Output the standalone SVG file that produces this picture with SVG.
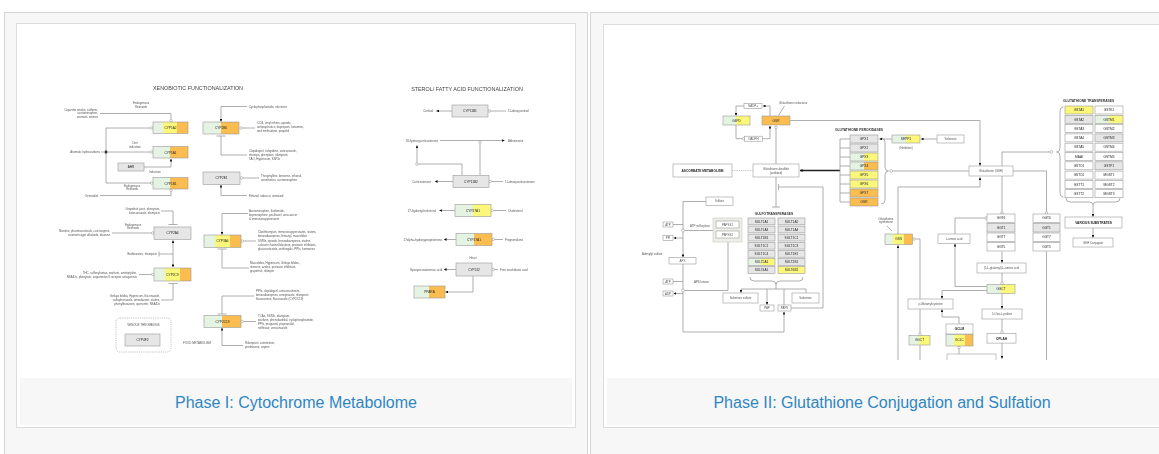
<svg xmlns="http://www.w3.org/2000/svg" width="1159" height="454" viewBox="0 0 1159 454">
<defs>
  <!-- expression colour fills for gene boxes -->
  <linearGradient id="go" x1="0" x2="1" y1="0" y2="0">
    <stop offset="0.5" stop-color="#e4f3e2"/><stop offset="0.5" stop-color="#fbbd50"/>
  </linearGradient>
  <linearGradient id="gy" x1="0" x2="1" y1="0" y2="0">
    <stop offset="0.5" stop-color="#e4f3e2"/><stop offset="0.5" stop-color="#fbf77a"/>
  </linearGradient>
  <linearGradient id="gyo" x1="0" x2="1" y1="0" y2="0">
    <stop offset="0.3" stop-color="#e4f3e2"/><stop offset="0.3" stop-color="#fbf77a"/>
    <stop offset="0.7" stop-color="#fbf77a"/><stop offset="0.7" stop-color="#fbbd50"/>
  </linearGradient>
  <marker id="ah" viewBox="0 0 6 6" refX="5.5" refY="3" markerWidth="2.8" markerHeight="2.8" orient="auto" markerUnits="userSpaceOnUse">
    <path d="M0,0L6,3L0,6z" fill="#111"/>
  </marker>
  <clipPath id="clipR"><rect x="604" y="25" width="560" height="335"/></clipPath>
  <!-- thumbnails are downscaled pictures, so soften them slightly -->
  <filter id="soft" x="-2%" y="-2%" width="104%" height="104%"><feGaussianBlur stdDeviation="0.3"/></filter>
</defs>
<style>
  .card{fill:#f7f7f7;stroke:#d4d4d4;stroke-width:1}
  .frame{fill:#fff;stroke:#dcdcdc;stroke-width:1}
  .cap{fill:#f7f7f7}
  .capt{font-family:"Liberation Sans",Arial,sans-serif;font-size:16px;fill:#2f86c2;text-anchor:middle}
  .ttl{font-family:"Liberation Sans",Arial,sans-serif;font-size:5.4px;fill:#444;text-anchor:middle}
  .st{font-family:"Liberation Sans",Arial,sans-serif;font-size:3.3px;fill:#333;font-weight:bold}
  .g{stroke:#9a9a9a;stroke-width:0.6}
  .gl{font-family:"Liberation Sans",Arial,sans-serif;font-size:3.2px;fill:#222;text-anchor:middle}
  .gb{font-family:"Liberation Sans",Arial,sans-serif;font-size:3.2px;fill:#222;text-anchor:middle;font-weight:bold}
  .d{font-family:"Liberation Sans",Arial,sans-serif;font-size:2.9px;fill:#555}
  .r{text-anchor:end}
  .m{text-anchor:middle}
  .ln{fill:none;stroke:#9a9a9a;stroke-width:0.8}
  .dk{fill:none;stroke:#222;stroke-width:1.3}
  .dash{fill:none;stroke:#9a9a9a;stroke-width:0.6;stroke-dasharray:1.2 1}
  .ar{marker-end:url(#ah)}
  .oc{fill:#fff;stroke:#8a8a8a;stroke-width:0.5}
  .gray{fill:#e6e6e6}
  .wht{fill:#fff}
  .yel{fill:#fbf77a}
  .org{fill:#fbbd50}
</style>

<!-- cards -->
<rect class="card" x="4.5" y="12.5" width="583" height="460"/>
<rect class="frame" x="16.5" y="23.5" width="559" height="404"/>
<rect class="cap" x="20" y="378" width="552" height="47"/>
<text class="capt" x="296" y="408">Phase I: Cytochrome Metabolome</text>

<rect class="card" x="590.5" y="12.5" width="600" height="460"/>
<rect class="frame" x="603.5" y="24.5" width="600" height="403"/>
<rect class="cap" x="607" y="378" width="560" height="47"/>
<text class="capt" x="882" y="408">Phase II: Glutathione Conjugation and Sulfation</text>

<!-- ===================== PHASE I ===================== -->
<g id="phase1" filter="url(#soft)">
<text class="ttl" x="198" y="90">XENOBIOTIC FUNCTIONALIZATION</text>
<text class="ttl" x="467" y="91">STEROL/ FATTY ACID FUNCTIONALIZATION</text>

<g id="p1-connectors">
  <!-- CYP1 family -->
  <path class="ln" d="M100,113.5 H171 V119.5"/>
  <path class="ln" d="M151,128 H106 V183 H151"/>
  <path class="ln" d="M101,152 H151"/>
  <rect x="104.8" y="150.6" width="2.4" height="2.8" fill="#333"/>
  <path class="ln ar" d="M144,167 H171 V159"/>
  <path class="ln" d="M100,195.5 H171 V191.5"/>
  <!-- CYP2B6 -->
  <path class="ln ar" d="M247,106.5 H221 V121.5"/>
  <path class="ln" d="M242.5,128 H255"/>
  <path class="ln" d="M221,136 V155 H247"/>
  <path class="ln" d="M216.5,136 H225.5"/>
  <!-- CYP2E1 -->
  <path class="ln" d="M243,178 H259"/>
  <path class="ln ar" d="M247,195.5 H221 V185"/>
  <!-- CYP2A6 / CYP2C9 -->
  <path class="ln" d="M161,211 H173 V224.5"/>
  <path class="ln" d="M168.5,224.5 H177.5"/>
  <path class="ln" d="M112,233 H151.5"/>
  <path class="ln ar" d="M173,254 V240.5"/>
  <path class="ln ar" d="M173,254 V267"/>
  <path class="ln" d="M159,254 H173"/>
  <path class="ln" d="M159,251.5 V256.5"/>
  <path class="ln" d="M139,274.5 H151.5"/>
  <path class="ln" d="M173,283.5 V300 H161"/>
  <path class="ln" d="M168.5,283.5 H177.5"/>
  <!-- CYP3A4 -->
  <path class="ln ar" d="M248,213.5 H222 V234.5"/>
  <path class="ln" d="M243.5,241 H256"/>
  <path class="ln" d="M222,249 V268 H249"/>
  <path class="ln" d="M217.5,249 H226.5"/>
  <!-- CYP2C19 -->
  <path class="ln" d="M254,296 H222 V314"/>
  <path class="ln" d="M217.5,314 H226.5"/>
  <path class="ln" d="M243.5,321.5 H256"/>
  <path class="ln ar" d="M243,345.5 H222 V328"/>
  <!-- sterol section -->
  <path class="ln ar" d="M452,111 H436.5"/>
  <path class="ln" d="M490.5,111 H506"/>
  <path class="ln ar" d="M440,140.5 H504.5"/>
  <path class="ln" d="M480,143.5 V175"/>
  <path class="ln ar" d="M417,162.7 V145.5"/>
  <path class="ln" d="M418.3,164 H462 V175"/>
  <path class="ln ar" d="M453,181.5 H435"/>
  <path class="ln" d="M491.5,181.5 H503"/>
  <path class="ln ar" d="M455,210.5 H439.5"/>
  <path class="ln" d="M493.5,210.5 H506"/>
  <path class="ln ar" d="M456,239.5 H444"/>
  <path class="ln" d="M494,239.5 H503"/>
  <path class="ln ar" d="M456,269.5 H444"/>
  <path class="ln" d="M494,269.5 H498"/>
  <path class="ln ar" d="M473,276 V292 H445.5"/>
  <!-- open circle ends -->
  <circle class="oc" cx="171" cy="120.8" r="1.3"/>
  <circle class="oc" cx="151.8" cy="128" r="1.3"/>
  <circle class="oc" cx="151.8" cy="152" r="1.3"/>
  <circle class="oc" cx="151.8" cy="183" r="1.3"/>
  <circle class="oc" cx="171" cy="190.3" r="1.3"/>
  <circle class="oc" cx="241.2" cy="128" r="1.3"/>
  <circle class="oc" cx="241.5" cy="178" r="1.3"/>
  <circle class="oc" cx="152.8" cy="233" r="1.3"/>
  <circle class="oc" cx="152.8" cy="274.5" r="1.3"/>
  <circle class="oc" cx="242.2" cy="241" r="1.3"/>
  <circle class="oc" cx="242.2" cy="321.5" r="1.3"/>
  <circle class="oc" cx="489.2" cy="111" r="1.3"/>
  <circle class="oc" cx="480" cy="142.2" r="1.3"/>
  <circle class="oc" cx="417" cy="164" r="1.3"/>
  <circle class="oc" cx="490.2" cy="181.5" r="1.3"/>
  <circle class="oc" cx="492.2" cy="210.5" r="1.3"/>
  <circle class="oc" cx="493.2" cy="239.5" r="1.3"/>
  <circle class="oc" cx="493.2" cy="269.5" r="1.3"/>
</g>

<!-- descriptive labels -->
<g id="p1-labels">
  <text class="d r" x="98" y="110.5">Cigarette smoke, caffeine,</text>
  <text class="d r" x="98" y="114.2">acetaminophen,</text>
  <text class="d r" x="98" y="118.3">aromatic amines</text>
  <text class="d m" x="141" y="104">Endogenous</text>
  <text class="d m" x="141" y="107.5">Retinoids</text>
  <text class="d r" x="100" y="153">Aromatic hydrocarbons</text>
  <text class="d m" x="135" y="144">Diet</text>
  <text class="d m" x="135" y="147.5">induction</text>
  <text class="d m" x="155" y="172.5">Induction</text>
  <text class="d m" x="132" y="186.5">Endogenous</text>
  <text class="d m" x="132" y="190">Retinoids</text>
  <text class="d r" x="98" y="196.5">Oestradiol</text>
  <text class="d" x="249" y="107.5">Cyclophosphamide, efavirenz</text>
  <text class="d" x="257" y="123.5">CCl4, vinyl ethers, opioids,</text>
  <text class="d" x="257" y="127.5">antipsychotics, bupropion, ketamine,</text>
  <text class="d" x="257" y="131.5">and methadone, propofol</text>
  <text class="d" x="249" y="152">Clopidogrel, ticlopidine, voriconazole,</text>
  <text class="d" x="249" y="156">thiotepa, phenytoin, rifampicin,</text>
  <text class="d" x="249" y="160">TAO, Hypericum, SSRIs</text>
  <text class="d" x="261" y="177">Theophylline, benzene, ethanol,</text>
  <text class="d" x="261" y="180.7">anesthetics, acetaminophen</text>
  <text class="d" x="249" y="196.5">Ethanol, tobacco, isoniazid</text>
  <text class="d r" x="160" y="209.5">Grapefruit juice, phenytoin,</text>
  <text class="d r" x="160" y="214">ketoconazole, rifampicin</text>
  <text class="d m" x="133" y="225.5">Endogenous</text>
  <text class="d m" x="133" y="229">Retinoids</text>
  <text class="d r" x="110" y="231.5">Nicotine, pharmaceuticals, carcinogens,</text>
  <text class="d r" x="110" y="235.5">coumarin-type alkaloids, dioxane</text>
  <text class="d r" x="157" y="255">Barbiturates, rifampicin</text>
  <text class="d r" x="137" y="273.5">THC, sulfonylureas, warfarin, amitriptyline,</text>
  <text class="d r" x="137" y="277.5">NSAIDs, phenytoin, angiotensin II receptor antagonists</text>
  <text class="d r" x="160" y="296.5">Ginkgo biloba, Hypericum, fluconazole,</text>
  <text class="d r" x="160" y="300.5">sulfaphenazole, amiodarone, statins,</text>
  <text class="d r" x="160" y="304.5">phenylbutazone, quercetin, NSAIDs</text>
  <text class="d" x="249" y="212">Acetaminophen, ifosfamide,</text>
  <text class="d" x="249" y="216">buprenorphine, paclitaxel, anti-cancer</text>
  <text class="d" x="249" y="220">&amp; immunosuppressants</text>
  <text class="d" x="258" y="233">Clarithromycin, immunosuppressants, statins,</text>
  <text class="d" x="258" y="237">benzodiazepines, fentanyl, macrolides</text>
  <text class="d" x="258" y="241.5">SSRIs, opioids, benzodiazepines, statins,</text>
  <text class="d" x="258" y="245.5">calcium channel blockers, protease inhibitors,</text>
  <text class="d" x="258" y="249.5">glucocorticoids, antifungals, PPIs, hormones</text>
  <text class="d" x="250" y="263.5">Macrolides, Hypericum, Ginkgo biloba,</text>
  <text class="d" x="250" y="267.5">ritonavir, azoles, protease inhibitors,</text>
  <text class="d" x="250" y="271.5">grapefruit, rifampin</text>
  <text class="d" x="256" y="291.5">PPIs, clopidogrel, anticonvulsants,</text>
  <text class="d" x="256" y="295.5">benzodiazepines, omeprazole, rifampicin</text>
  <text class="d" x="256" y="299.5">fluvoxamine, fluconazole (CYP2C19)</text>
  <text class="d" x="258" y="317">TCAs, SSRIs, diazepam,</text>
  <text class="d" x="258" y="321">warfarin, phenobarbital, cyclophosphamide,</text>
  <text class="d" x="258" y="325">PPIs, proguanil, propranolol,</text>
  <text class="d" x="258" y="329">nelfinavir, voriconazole</text>
  <text class="d" x="245" y="344">Rifampicin, artemisinin,</text>
  <text class="d" x="245" y="348">prednisone, aspirin</text>
  <text class="d m" x="197" y="343.5">FOOD METABOLISM</text>
  <text class="d r" x="433" y="112">Cortisol</text>
  <text class="d" x="508" y="112">11-deoxycortisol</text>
  <text class="d r" x="438" y="141.5">18-hydroxycorticosterone</text>
  <text class="d" x="508" y="141.5">Aldosterone</text>
  <text class="d r" x="431" y="182.5">Corticosterone</text>
  <text class="d" x="505" y="182.5">11-deoxycorticosterone</text>
  <text class="d r" x="436" y="211.5">27-hydroxycholesterol</text>
  <text class="d" x="508" y="211.5">Cholesterol</text>
  <text class="d r" x="442" y="240.5">17alpha-hydroxyprogesterone</text>
  <text class="d" x="505" y="240.5">Pregnenolone</text>
  <text class="d m" x="473" y="258.5">Heart</text>
  <text class="d r" x="442" y="270.5">Epoxyeicosatrienoic acid</text>
  <text class="d" x="500" y="270.5">Free arachidonic acid</text>
</g>

<!-- gene nodes -->
<g id="cyp1a2"><rect class="g" x="153" y="122" width="35" height="11.5" fill="url(#gyo)"/><text class="gl" x="170.5" y="129">CYP1A2</text></g>
<g id="cyp1a1"><rect class="g" x="153" y="146.5" width="35" height="11.5" fill="url(#go)"/><text class="gl" x="170.5" y="153.5">CYP1A1</text></g>
<g id="ahr"><rect class="g gray" x="118" y="163" width="26" height="8"/><text class="gl" x="131" y="168.2">AHR</text></g>
<g id="cyp1b1"><rect class="g" x="153" y="177.5" width="35" height="11.5" fill="url(#go)"/><text class="gl" x="170.5" y="184.5">CYP1B1</text></g>
<g id="cyp2b6"><rect class="g" x="203" y="122" width="36" height="12" fill="url(#go)"/><text class="gl" x="221" y="129.2">CYP2B6</text></g>
<g id="cyp2e1"><rect class="g gray" x="203" y="172" width="37" height="12.5"/><text class="gl" x="221.5" y="179.4">CYP2E1</text></g>
<g id="cyp2a6"><rect class="g gray" x="154" y="227" width="37" height="12.5"/><text class="gl" x="172.5" y="234.4">CYP2A6</text></g>
<g id="cyp2c9"><rect class="g" x="154" y="268" width="37" height="13" fill="url(#gyo)"/><text class="gl" x="172.5" y="275.6">CYP2C9</text></g>
<g id="cyp3a4"><rect class="g" x="204" y="235" width="37" height="12.5" fill="url(#gyo)"/><text class="gl" x="222.5" y="242.4">CYP3A4</text></g>
<g id="cyp2c19"><rect class="g" x="204" y="315.5" width="37" height="12" fill="url(#go)"/><text class="gl" x="222.5" y="322.7">CYP2C19</text></g>
<g id="venous-thrombosis">
  <rect class="dash" x="116" y="318" width="55" height="34" rx="4"/>
  <text class="d m" x="143.5" y="326">VENOUS THROMBOSIS</text>
  <rect class="g gray" x="125" y="334" width="35" height="12"/><text class="gl" x="142.5" y="341.2">CYP4F2</text>
</g>
<g id="cyp11b1"><rect class="g gray" x="452" y="105" width="36" height="12"/><text class="gl" x="470" y="112.2">CYP11B1</text></g>
<g id="cyp11b2"><rect class="g gray" x="453" y="175.5" width="36" height="12"/><text class="gl" x="471" y="182.7">CYP11B2</text></g>
<g id="cyp27a1"><rect class="g" x="455" y="204.5" width="36" height="12" fill="url(#gy)"/><text class="gl" x="473" y="211.7">CYP27A1</text></g>
<g id="cyp17a1"><rect class="g" x="456" y="233.5" width="36" height="12" fill="url(#go)"/><text class="gl" x="474" y="240.7">CYP17A1</text></g>
<g id="cyp2j2"><rect class="g gray" x="456" y="263" width="36" height="13"/><text class="gl" x="474" y="270.6">CYP2J2</text></g>
<g id="ppara"><rect class="g" x="414" y="286" width="31" height="12" fill="url(#go)"/><text class="gl" x="429.5" y="293.2">PPARA</text></g>
</g>

<!-- ===================== PHASE II ===================== -->
<g clip-path="url(#clipR)">
<g id="phase2" filter="url(#soft)">
<g id="p2-connectors">
  <!-- glutathione redox cycle -->
  <path class="ln ar" d="M770,116 V106 H763"/>
  <path class="ln ar" d="M744,106 H736 V115.5"/>
  <path class="ln" d="M736,125 V138.7 H742.5"/>
  <path class="ln ar" d="M762,138.7 H770 V126"/>
  <path class="ln" d="M784.5,106 L778.5,115.5"/>
  <path class="ln ar" d="M790,120.5 H980 V165.5"/>
  <path class="ln" d="M776,128.5 V164"/>
  <path class="dash" d="M732,170.5 H752.5"/>
  <path class="dk ar" d="M840,170.5 H800"/>
  <path class="ln" d="M776,177 V207"/>
  <path class="ln" d="M772,207 H780"/>
  <path class="ln" d="M778.5,187 H823 V308 H791"/>
  <path class="ln" d="M778.5,184 V190"/>
  <!-- peroxidase bracket -->
  <path class="ln" d="M840,139 V202 M840,139 H850 M840,148 H850 M840,157 H850 M840,166 H850 M840,175 H850 M840,184 H850 M840,193 H850 M840,202 H850"/>
  <path class="ln" d="M881,138 q4,0 4,4 v25 q0,4 3.5,4 q-3.5,0 -3.5,4 v25 q0,4 -4,4"/>
  <path class="ln" d="M892.6,171 H969"/>
  <path class="ln ar" d="M892,139 H879.5"/>
  <path class="ln ar" d="M937,139 H921"/>
  <!-- GSH hub -->
  <path class="ln ar" d="M898,234 V187 H980 V177.5"/>
  <path class="ln ar" d="M898,362 V245.5"/>
  <path class="ln" d="M1013,171 H1046.5 V211.7"/>
  <path class="ln" d="M1002,166 V152 H1050"/>
  <path class="ln" d="M1002,176 V211.7"/>
  <path class="ln" d="M1063.5,107 q-3.5,0 -3.5,4 v37 q0,4 -3.5,4 q3.5,0 3.5,4 v37 q0,4 3.5,4"/>
  <path class="ln" d="M1066,198 q0,4 4,4 h19 q4,0 4,3 q0,-3 4,-3 h19 q4,0 4,-4"/>
  <path class="ln ar" d="M1093,205 V216.5"/>
  <path class="ln ar" d="M1093,228 V237.5"/>
  <!-- synthesis and gamma-glutamyl cycle -->
  <path class="ln" d="M887,226 L892,231"/>
  <path class="ln" d="M915.3,239 H920 V333"/>
  <path class="ln" d="M920,345 V362"/>
  <path class="ln" d="M984.7,218 H955 V234"/>
  <path class="ln ar" d="M987,286.5 H955 V244"/>
  <path class="ln ar" d="M1002,251.5 V262.5"/>
  <path class="ln" d="M1002,273 V282"/>
  <path class="ln ar" d="M1002,293.5 V308.5"/>
  <path class="ln" d="M1002,319 V331"/>
  <path class="ln ar" d="M1002,343 V358.5"/>
  <path class="ln ar" d="M987,290.5 H942 V298.5"/>
  <path class="ln ar" d="M959,324 V317 H942 V309.6"/>
  <path class="ln" d="M959,348.8 V354"/>
  <path class="ln" d="M1046.5,251.5 V362"/>
  <!-- sulfation -->
  <path class="ln ar" d="M706,201.5 H683 V257"/>
  <path class="ln" d="M673,224.5 H683"/>
  <path class="ln ar" d="M683,238 H673.8"/>
  <path class="ln" d="M684.5,230.5 H713"/>
  <path class="ln ar" d="M683,264 V332 H784 V312"/>
  <path class="ln" d="M673,281.5 H683"/>
  <path class="ln ar" d="M683,293.5 H673.8"/>
  <path class="ln" d="M684.5,290.5 H728 V242"/>
  <path class="ln" d="M750,277 q0,4 4,4 h18 q4,0 4,4 q0,-4 4,-4 h19 q4,0 4,-4"/>
  <path class="ln" d="M776,285 V289 M741,289 H806 V293"/>
  <path class="ln ar" d="M741,289 V292.6"/>
  <path class="ln ar" d="M767,289 V304.6"/>
  <path class="ln" d="M784,289 V305"/>
  <!-- open circle ends -->
  <circle class="oc" cx="776" cy="127.3" r="1.3"/>
  <circle class="oc" cx="743.8" cy="138.7" r="1.3"/>
  <circle class="oc" cx="891.2" cy="171" r="1.4"/>
  <circle class="oc" cx="1051.4" cy="152" r="1.4"/>
  <circle class="oc" cx="1046.5" cy="213" r="1.3"/>
  <circle class="oc" cx="1002" cy="213" r="1.3"/>
  <circle class="oc" cx="986" cy="218" r="1.3"/>
  <circle class="oc" cx="914" cy="239" r="1.3"/>
  <circle class="oc" cx="920" cy="334.3" r="1.3"/>
  <circle class="oc" cx="1002" cy="283.3" r="1.3"/>
  <circle class="oc" cx="1002" cy="332.3" r="1.3"/>
  <circle class="oc" cx="959" cy="347.5" r="1.3"/>
  <circle class="oc" cx="683" cy="230.5" r="1.5"/>
  <circle class="oc" cx="683" cy="290.5" r="1.5"/>
</g>

<g id="p2-labels">
  <text class="d" x="779" y="104">Glutathione reductase</text>
  <text class="st" x="835" y="130.5">GLUTATHIONE PEROXIDASES</text>
  <text class="d m" x="906" y="148.5">(Inhibition)</text>
  <text class="st" x="1063" y="101.5">GLUTATHIONE TRANSFERASES</text>
  <text class="d m" x="886" y="219.5">Glutathione</text>
  <text class="d m" x="886" y="223">synthetase</text>
  <text class="st" x="755" y="214.5">SULFOTRANSFERASES</text>
  <text class="d" x="690" y="226.5">ATP sulfurylase</text>
  <text class="d" x="694" y="283">APS kinase</text>
  <text class="d" x="642" y="255">Adenylyl sulfate</text>
</g>

<!-- redox and peroxidase nodes -->
<g id="nadp"><rect class="g wht" x="744" y="103.5" width="18" height="5"/><text class="d m" x="753" y="107">NADP+</text></g>
<g id="nadph"><rect class="g wht" x="744.5" y="136.2" width="18" height="5"/><text class="d m" x="753.5" y="139.7">NADPH</text></g>
<g id="g6pd"><rect class="g" x="723" y="116" width="27" height="9" fill="url(#gy)"/><text class="gl" x="736.5" y="121.6">G6PD</text></g>
<g id="gsr"><rect class="g org" x="762" y="116" width="28" height="9"/><text class="gl" x="776" y="121.6">GSR</text></g>
<g id="ascorbate"><rect class="g wht" x="673" y="164" width="59" height="13"/><text class="gb" x="702.5" y="171.6">ASCORBATE METABOLISM</text></g>
<g id="gssg"><rect class="g wht" x="753" y="164" width="46" height="13"/><text class="d m" x="776" y="170" fill="#333">Glutathione disulfide</text><text class="d m" x="776" y="173.5" fill="#333">(oxidized)</text></g>
<g id="gpx1"><rect class="g gray" x="850" y="135" width="28" height="8"/><text class="gl" x="864" y="140.2">GPX1</text></g>
<g id="gpx2"><rect class="g gray" x="850" y="144" width="28" height="8"/><text class="gl" x="864" y="149.2">GPX2</text></g>
<g id="gpx3"><rect class="g" x="850" y="153" width="28" height="8" fill="url(#gy)"/><text class="gl" x="864" y="158.2">GPX3</text></g>
<g id="gpx4"><rect class="g" x="850" y="162" width="28" height="8" fill="url(#go)"/><text class="gl" x="864" y="167.2">GPX4</text></g>
<g id="gpx5"><rect class="g yel" x="850" y="171" width="28" height="8"/><text class="gl" x="864" y="176.2">GPX5</text></g>
<g id="gpx6"><rect class="g yel" x="850" y="180" width="28" height="8"/><text class="gl" x="864" y="185.2">GPX6</text></g>
<g id="gpx7"><rect class="g org" x="850" y="189" width="28" height="8"/><text class="gl" x="864" y="194.2">GPX7</text></g>
<g id="gpx8"><rect class="g org" x="850" y="198" width="28" height="8"/><text class="gl" x="864" y="203.2">GSR</text></g>
<g id="sepp1"><rect class="g" x="892" y="135" width="28" height="8" fill="url(#gy)"/><text class="gl" x="906" y="140.2">SEPP1</text></g>
<g id="selenium"><rect class="g wht" x="937" y="135" width="27" height="8"/><text class="d m" x="950.5" y="140">Selenium</text></g>
<g id="gsh"><rect class="g wht" x="969" y="166" width="44" height="10"/><text class="d m" x="991" y="172" fill="#333">Glutathione (GSH)</text></g>

<!-- glutathione transferases -->
<g id="gst-grid">
  <g id="gsta1"><rect class="g yel" x="1065" y="106" width="28" height="8"/><text class="gl" x="1079" y="111.2">GSTA1</text></g>
  <g id="gsta2"><rect class="g gray" x="1065" y="115.3" width="28" height="8"/><text class="gl" x="1079" y="120.5">GSTA2</text></g>
  <g id="gsta3"><rect class="g wht" x="1065" y="124.6" width="28" height="8"/><text class="gl" x="1079" y="129.8">GSTA3</text></g>
  <g id="gsta4"><rect class="g wht" x="1065" y="133.9" width="28" height="8"/><text class="gl" x="1079" y="139.1">GSTA4</text></g>
  <g id="gsta5"><rect class="g wht" x="1065" y="143.2" width="28" height="8"/><text class="gl" x="1079" y="148.4">GSTA5</text></g>
  <g id="maai"><rect class="g wht" x="1065" y="152.5" width="28" height="8"/><text class="gl" x="1079" y="157.7">MAAI</text></g>
  <g id="gsto1"><rect class="g wht" x="1065" y="161.8" width="28" height="8"/><text class="gl" x="1079" y="167">GSTO1</text></g>
  <g id="gsto2"><rect class="g wht" x="1065" y="171.1" width="28" height="8"/><text class="gl" x="1079" y="176.3">GSTO2</text></g>
  <g id="gstt1"><rect class="g wht" x="1065" y="180.4" width="28" height="8"/><text class="gl" x="1079" y="185.6">GSTT1</text></g>
  <g id="gstt2"><rect class="g wht" x="1065" y="189.7" width="28" height="8"/><text class="gl" x="1079" y="194.9">GSTT2</text></g>
  <g id="gstk1"><rect class="g wht" x="1095" y="106" width="28" height="8"/><text class="gl" x="1109" y="111.2">GSTK1</text></g>
  <g id="gstm1"><rect class="g" x="1095" y="115.3" width="28" height="8" fill="url(#gy)"/><text class="gl" x="1109" y="120.5">GSTM1</text></g>
  <g id="gstm2"><rect class="g wht" x="1095" y="124.6" width="28" height="8"/><text class="gl" x="1109" y="129.8">GSTM2</text></g>
  <g id="gstm3"><rect class="g gray" x="1095" y="133.9" width="28" height="8"/><text class="gl" x="1109" y="139.1">GSTM3</text></g>
  <g id="gstm4"><rect class="g wht" x="1095" y="143.2" width="28" height="8"/><text class="gl" x="1109" y="148.4">GSTM4</text></g>
  <g id="gstm5"><rect class="g wht" x="1095" y="152.5" width="28" height="8"/><text class="gl" x="1109" y="157.7">GSTM5</text></g>
  <g id="gstp1"><rect class="g gray" x="1095" y="161.8" width="28" height="8"/><text class="gl" x="1109" y="167">GSTP1</text></g>
  <g id="mgst1"><rect class="g wht" x="1095" y="171.1" width="28" height="8"/><text class="gl" x="1109" y="176.3">MGST1</text></g>
  <g id="mgst2"><rect class="g wht" x="1095" y="180.4" width="28" height="8"/><text class="gl" x="1109" y="185.6">MGST2</text></g>
  <g id="mgst3"><rect class="g wht" x="1095" y="189.7" width="28" height="8"/><text class="gl" x="1109" y="194.9">MGST3</text></g>
</g>
<g id="various-substrates"><rect class="g wht" x="1065" y="217" width="57" height="11"/><text class="gb" x="1093.5" y="223.6">VARIOUS SUBSTRATES</text></g>
<g id="gsh-conjugate"><rect class="g wht" x="1073" y="238" width="40" height="9"/><text class="d m" x="1093" y="243.6" fill="#333">GSH Conjugate</text></g>

<!-- gamma-glutamyl cycle -->
<g id="ggt-left">
  <g><rect class="g wht" x="987" y="214" width="28" height="8.5"/><text class="gl" x="1001" y="219.4">GGT6</text></g>
  <g><rect class="g gray" x="987" y="223.5" width="28" height="8.5"/><text class="gl" x="1001" y="228.9">GGT1</text></g>
  <g><rect class="g wht" x="987" y="233" width="28" height="8.5"/><text class="gl" x="1001" y="238.4">GGT7</text></g>
  <g><rect class="g wht" x="987" y="242.5" width="28" height="8.5"/><text class="gl" x="1001" y="247.9">GGT5</text></g>
</g>
<g id="ggt-right">
  <g><rect class="g wht" x="1033" y="214" width="27" height="8.5"/><text class="gl" x="1046.5" y="219.4">GGT6</text></g>
  <g><rect class="g gray" x="1033" y="223.5" width="27" height="8.5"/><text class="gl" x="1046.5" y="228.9">GGT1</text></g>
  <g><rect class="g wht" x="1033" y="233" width="27" height="8.5"/><text class="gl" x="1046.5" y="238.4">GGT7</text></g>
  <g><rect class="g wht" x="1033" y="242.5" width="27" height="8.5"/><text class="gl" x="1046.5" y="247.9">GGT5</text></g>
</g>
<g id="l-amino-acid"><rect class="g wht" x="938" y="234" width="32" height="9.5"/><text class="d m" x="954" y="239.8">L-amino acid</text></g>
<g id="glutamyl-amino-acid"><rect class="g wht" x="977" y="263" width="49" height="10"/><text class="d m" x="1001.5" y="269">(5-L-glutamyl)-L-amino acid</text></g>
<g id="ggct"><rect class="g" x="987" y="284.6" width="28" height="8.8" fill="url(#gy)"/><text class="gl" x="1001" y="290.2">GGCT</text></g>
<g id="oxoproline"><rect class="g wht" x="982" y="309" width="40" height="10"/><text class="d m" x="1002" y="315">5-Oxo-L-proline</text></g>
<g id="oplah"><rect class="g wht" x="987" y="333.6" width="29" height="9.5"/><text class="gb" x="1001.5" y="339.5">OPLAH</text></g>
<g id="gss"><rect class="g" x="885" y="234" width="27.5" height="10.5" fill="url(#gyo)"/><text class="gl" x="898.7" y="240.4">GSS</text></g>
<g id="ggct-2"><rect class="g" x="909" y="335.5" width="21" height="9.5" fill="url(#gy)"/><text class="gl" x="919.5" y="341.3">GGCT</text></g>
<g id="glutamylcysteine"><rect class="g wht" x="908" y="299" width="45" height="10"/><text class="d m" x="930.5" y="305">γ-Glutamylcysteine</text></g>
<g id="gclm"><rect class="g wht" x="946" y="324" width="27" height="10"/><text class="gb" x="959.5" y="330">GCLM</text></g>
<g id="gclc"><rect class="g" x="946" y="334.5" width="27" height="11.5" fill="url(#gyo)"/><text class="gl" x="959.5" y="341.3">GCLC</text></g>
<g id="cysteine-box"><path class="g" fill="#fff" d="M947,362 V354 H996 V362"/></g>

<!-- sulfation nodes -->
<g id="sulfate"><rect class="g wht" x="706" y="197" width="27" height="8.5"/><text class="d m" x="719.5" y="202.3">Sulfate</text></g>
<g id="atp1"><rect class="g wht" x="663" y="222" width="10" height="5"/><text class="d m" x="668" y="225.6">ATP</text></g>
<g id="ppi"><rect class="g wht" x="663" y="235.5" width="10" height="5"/><text class="d m" x="668" y="239.1">PPi</text></g>
<g id="aps"><rect class="g wht" x="669" y="257.5" width="27" height="6.5"/><text class="d m" x="682.5" y="261.8">APS</text></g>
<g id="atp2"><rect class="g wht" x="663" y="279" width="10" height="5"/><text class="d m" x="668" y="282.6">ATP</text></g>
<g id="adp"><rect class="g wht" x="663" y="291" width="10" height="5"/><text class="d m" x="668" y="294.6">ADP</text></g>
<g id="papss">
  <rect x="713" y="218" width="29" height="24" fill="#eeeeea" stroke="#c8c8c0" stroke-width="0.6"/>
  <rect class="g wht" x="716" y="221" width="23" height="7"/><text class="d m" x="727.5" y="225.5">PAPSS1</text>
  <rect class="g wht" x="716" y="231" width="23" height="7"/><text class="d m" x="727.5" y="235.5">PAPSS2</text>
</g>
<g id="sult-grid">
  <g><rect class="g gray" x="748" y="218" width="27" height="6.8"/><text class="gl" x="761.5" y="222.6">SULT1A1</text></g>
  <g><rect class="g gray" x="778" y="218" width="27" height="6.8"/><text class="gl" x="791.5" y="222.6">SULT1A2</text></g>
  <g><rect class="g gray" x="748" y="226.1" width="27" height="6.8"/><text class="gl" x="761.5" y="230.7">SULT1A3</text></g>
  <g><rect class="g gray" x="778" y="226.1" width="27" height="6.8"/><text class="gl" x="791.5" y="230.7">SULT1A4</text></g>
  <g><rect class="g gray" x="748" y="234.2" width="27" height="6.8"/><text class="gl" x="761.5" y="238.8">SULT1B1</text></g>
  <g><rect class="g gray" x="778" y="234.2" width="27" height="6.8"/><text class="gl" x="791.5" y="238.8">SULT1C1</text></g>
  <g><rect class="g gray" x="748" y="242.3" width="27" height="6.8"/><text class="gl" x="761.5" y="246.9">SULT1C2</text></g>
  <g><rect class="g gray" x="778" y="242.3" width="27" height="6.8"/><text class="gl" x="791.5" y="246.9">SULT1C3</text></g>
  <g><rect class="g gray" x="748" y="250.4" width="27" height="6.8"/><text class="gl" x="761.5" y="255">SULT1C4</text></g>
  <g><rect class="g gray" x="778" y="250.4" width="27" height="6.8"/><text class="gl" x="791.5" y="255">SULT1E1</text></g>
  <g><rect class="g" x="748" y="258.5" width="27" height="6.8" fill="url(#gy)"/><text class="gl" x="761.5" y="263.1">SULT2A1</text></g>
  <g><rect class="g gray" x="778" y="258.5" width="27" height="6.8"/><text class="gl" x="791.5" y="263.1">SULT2B1</text></g>
  <g><rect class="g gray" x="748" y="266.6" width="27" height="6.8"/><text class="gl" x="761.5" y="271.2">SULT4A1</text></g>
  <g><rect class="g yel" x="778" y="266.6" width="27" height="6.8"/><text class="gl" x="791.5" y="271.2">SULT6B1</text></g>
</g>
<g id="substrate-sulfate"><rect class="g wht" x="723" y="293" width="35" height="10"/><text class="d m" x="740.5" y="299">Substrate sulfate</text></g>
<g id="pap"><rect class="g wht" x="760" y="305" width="14" height="6"/><text class="d m" x="767" y="309">PAP</text></g>
<g id="paps"><rect class="g wht" x="778" y="305" width="13" height="6"/><text class="d m" x="784.5" y="309">PAPS</text></g>
<g id="substrate"><rect class="g wht" x="792" y="293" width="27" height="10"/><text class="d m" x="805.5" y="299">Substrate</text></g>
</g>
</g>
</svg>
